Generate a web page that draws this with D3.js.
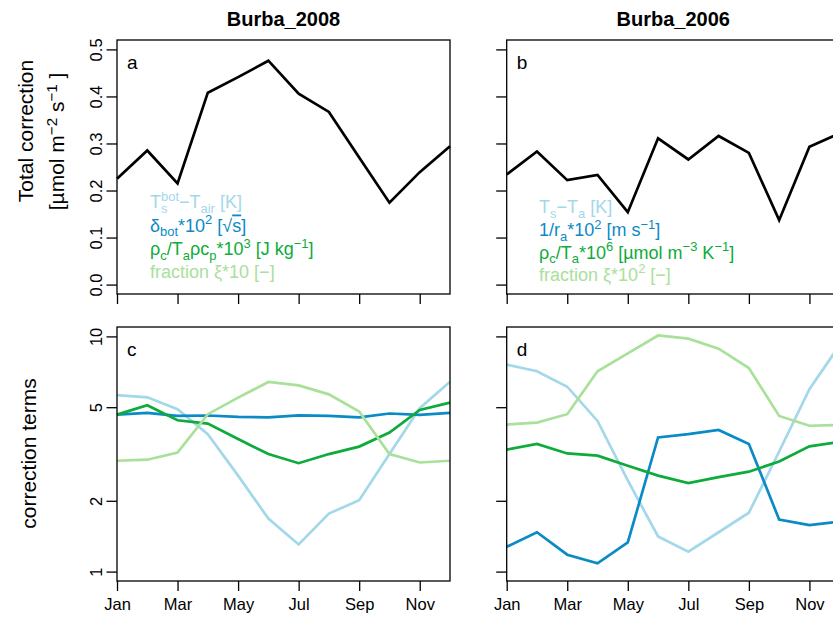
<!DOCTYPE html>
<html>
<head>
<meta charset="utf-8">
<script src="https://d3js.org/d3.v7.min.js"></script>
<style>
  body { margin: 0; background: #ffffff; }
  svg text { font-family: "Liberation Sans", Arial, Helvetica, sans-serif; }
</style>
</head>
<body>
<div id="chart"></div>
<script>
// ---- data ----
var months = [1, 2, 3, 4, 5, 6, 7, 8, 9, 10, 11, 12];
var monthTicks = [1, 3, 5, 7, 9, 11];
var monthLabels = ["Jan", "Mar", "May", "Jul", "Sep", "Nov"];
var totalTicks = [0.0, 0.1, 0.2, 0.3, 0.4, 0.5];
var termTicks = [1, 2, 5, 10];

var total2008 = [0.225, 0.285, 0.215, 0.408, 0.441, 0.476, 0.406, 0.367, 0.270, 0.174, 0.239, 0.294];
var total2006 = [0.234, 0.283, 0.222, 0.233, 0.154, 0.311, 0.266, 0.316, 0.280, 0.137, 0.293, 0.322];

var dT2008    = [5.63, 5.51, 4.90, 3.84, 2.56, 1.68, 1.305, 1.765, 2.01, 3.16, 4.95, 6.41];
var delta2008 = [4.65, 4.73, 4.59, 4.61, 4.55, 4.53, 4.62, 4.59, 4.53, 4.70, 4.64, 4.73];
var rho2008   = [4.65, 5.10, 4.40, 4.26, 3.66, 3.16, 2.89, 3.16, 3.40, 3.90, 4.87, 5.23];
var frac2008  = [2.96, 2.99, 3.21, 4.67, 5.49, 6.40, 6.19, 5.67, 4.79, 3.16, 2.91, 2.96];

var dT2006    = [7.59, 7.11, 6.11, 4.37, 2.44, 1.41, 1.215, 1.47, 1.78, 3.24, 5.96, 9.2];
var ra2006    = [1.275, 1.47, 1.18, 1.085, 1.33, 3.72, 3.84, 4.00, 3.49, 1.665, 1.575, 1.63];
var rho2006   = [3.30, 3.49, 3.18, 3.11, 2.82, 2.56, 2.38, 2.52, 2.66, 2.94, 3.41, 3.56];
var frac2006  = [4.22, 4.30, 4.67, 7.11, 8.47, 10.09, 9.78, 8.87, 7.34, 4.59, 4.17, 4.2];

var termColors = ["#a3d8ea", "#0a8bc6", "#0dab3a", "#a9e09a"];

// legend pieces: [text, mode]  mode: n = normal, b = subscript, p = superscript, s = superscript stacked over previous subscript
var legend2008 = [
  [["T", "n"], ["s", "b"], ["bot", "s"], ["\u2212T", "n"], ["air", "b"], [" [K]", "n"]],
  [["\u03b4", "n"], ["bot", "b"], ["*10", "n"], ["2", "p"], [" [\u221a", "n"], ["s", "o"], ["]", "n"]],
  [["\u03c1", "n"], ["c", "b"], ["/T", "n"], ["a", "b"], ["\u03c1c", "n"], ["p", "b"], ["*10", "n"], ["3", "p"], [" [J kg", "n"], ["\u22121", "p"], ["]", "n"]],
  [["fraction \u03be*10 [\u2212]", "n"]]
];
var legend2006 = [
  [["T", "n"], ["s", "b"], ["\u2212T", "n"], ["a", "b"], [" [K]", "n"]],
  [["1/r", "n"], ["a", "b"], ["*10", "n"], ["2", "p"], [" [m s", "n"], ["\u22121", "p"], ["]", "n"]],
  [["\u03c1", "n"], ["c", "b"], ["/T", "n"], ["a", "b"], ["*10", "n"], ["6", "p"], [" [\u00b5mol m", "n"], ["\u22123", "p"], [" K", "n"], ["\u22121", "p"], ["]", "n"]],
  [["fraction \u03be*10", "n"], ["2", "p"], [" [\u2212]", "n"]]
];

var W = 833, H = 617;
var svg = d3.select("#chart").append("svg")
  .attr("width", W).attr("height", H)
  .style("display", "block");
svg.append("rect").attr("width", W).attr("height", H).attr("fill", "#fff");

var cols = [117, 506.7];
var pw = 333;
var rows = [{top: 40, bottom: 294}, {top: 327, bottom: 581}];

function xScale(c) {
  return d3.scaleLinear().domain([1, 12]).range([cols[c], cols[c] + pw]);
}
var yTop = d3.scaleLinear().domain([-0.02, 0.52]).range([rows[0].bottom, rows[0].top]);
var yBot = d3.scaleLog().domain([Math.pow(10, -0.04), Math.pow(10, 1.04)]).range([rows[1].bottom, rows[1].top]);

function drawPanel(c, r, y, series, colors, letter, showYLabels, showXLabels, yTicks, yFmt) {
  var x = xScale(c);
  var g = svg.append("g");
  var row = rows[r];

  // lines
  series.forEach(function(s, i) {
    var line = d3.line()
      .x(function(d, j) { return x(months[j]); })
      .y(function(d) { return y(d); });
    g.append("path")
      .datum(s)
      .attr("fill", "none")
      .attr("stroke", colors[i])
      .attr("stroke-width", 2.7)
      .attr("stroke-linejoin", "miter")
      .attr("d", line);
  });

  // box
  g.append("rect")
    .attr("x", cols[c]).attr("y", row.top)
    .attr("width", pw).attr("height", row.bottom - row.top)
    .attr("fill", "none").attr("stroke", "#000").attr("stroke-width", 1.3);

  // x axis
  var xa = g.append("g")
    .attr("transform", "translate(0," + row.bottom + ")")
    .call(d3.axisBottom(x).tickValues(monthTicks).tickSize(10).tickSizeOuter(0).tickPadding(7)
      .tickFormat(function(d, i) { return showXLabels ? monthLabels[i] : ""; }));
  xa.select(".domain").remove();
  xa.selectAll("line").attr("stroke", "#000").attr("stroke-width", 1.3);
  xa.selectAll("text").attr("font-size", 16.5).attr("fill", "#000")
    .attr("font-family", "Liberation Sans, Arial, sans-serif");

  // y axis
  var ya = g.append("g")
    .attr("transform", "translate(" + cols[c] + ",0)")
    .call(d3.axisLeft(y).tickValues(yTicks).tickSize(10.5).tickSizeOuter(0)
      .tickFormat(function(d) { return showYLabels ? yFmt(d) : ""; }));
  ya.select(".domain").remove();
  ya.selectAll("line").attr("stroke", "#000").attr("stroke-width", 1.3);
  ya.selectAll("text")
    .attr("x", null).attr("dy", null).attr("y", 0)
    .attr("transform", "translate(-15,0) rotate(-90)")
    .attr("text-anchor", "middle")
    .attr("font-size", 16.5).attr("fill", "#000")
    .attr("font-family", "Liberation Sans, Arial, sans-serif");

  // panel letter
  g.append("text")
    .attr("x", cols[c] + 10).attr("y", row.top + 29)
    .attr("font-size", 19).attr("fill", "#000")
    .text(letter);
}

function writeRich(sel, pieces, size) {
  var off = 0, prev = null;
  pieces.forEach(function(p) {
    var txt = p[0], mode = p[1];
    var target = 0, fs = size;
    if (mode === "b") { target = 4.5; fs = size * 0.72; }
    if (mode === "p" || mode === "s") { target = -7.5; fs = size * 0.72; }
    var t = sel.append("tspan")
      .attr("font-size", fs)
      .attr("dy", target - off)
      .text(txt);
    if (mode === "s" && prev) {
      t.attr("dx", -prev.node().getComputedTextLength());
    }
    if (mode === "o") {
      t.style("text-decoration", "overline");
    }
    off = target;
    prev = t;
  });
}

function drawLegend(x0, baselines, rowsOfPieces) {
  rowsOfPieces.forEach(function(pieces, i) {
    var t = svg.append("text")
      .attr("x", x0).attr("y", baselines[i])
      .attr("fill", termColors[i])
      .attr("font-size", 18);
    writeRich(t, pieces, 18);
  });
}

var fmtTotal = d3.format(".1f");
var fmtTerm = d3.format("d");

drawPanel(0, 0, yTop, [total2008], ["#000"], "a", true, false, totalTicks, fmtTotal);
drawPanel(1, 0, yTop, [total2006], ["#000"], "b", false, false, totalTicks, fmtTotal);
drawPanel(0, 1, yBot, [dT2008, delta2008, rho2008, frac2008], termColors, "c", true, true, termTicks, fmtTerm);
drawPanel(1, 1, yBot, [dT2006, ra2006, rho2006, frac2006], termColors, "d", false, true, termTicks, fmtTerm);

drawLegend(150, [208, 231.5, 255, 278.3], legend2008);
drawLegend(539, [213, 236, 258.5, 280.5], legend2006);

// titles
svg.append("text").attr("x", cols[0] + pw / 2).attr("y", 26)
  .attr("text-anchor", "middle").attr("font-size", 20).attr("font-weight", "bold")
  .text("Burba_2008");
svg.append("text").attr("x", cols[1] + pw / 2).attr("y", 26)
  .attr("text-anchor", "middle").attr("font-size", 20).attr("font-weight", "bold")
  .text("Burba_2006");

// y axis titles
svg.append("text")
  .attr("transform", "translate(33,131) rotate(-90)")
  .attr("text-anchor", "middle").attr("font-size", 21)
  .text("Total correction");
var unit = svg.append("text")
  .attr("transform", "translate(64,141.5) rotate(-90)")
  .attr("text-anchor", "middle").attr("font-size", 21);
writeRich(unit, [["[\u00b5mol m", "n"], ["\u22122", "p"], [" s", "n"], ["\u22121", "p"], [" ]", "n"]], 21);
svg.append("text")
  .attr("transform", "translate(36,453.5) rotate(-90)")
  .attr("text-anchor", "middle").attr("font-size", 21)
  .text("correction terms");
</script>
</body>
</html>
